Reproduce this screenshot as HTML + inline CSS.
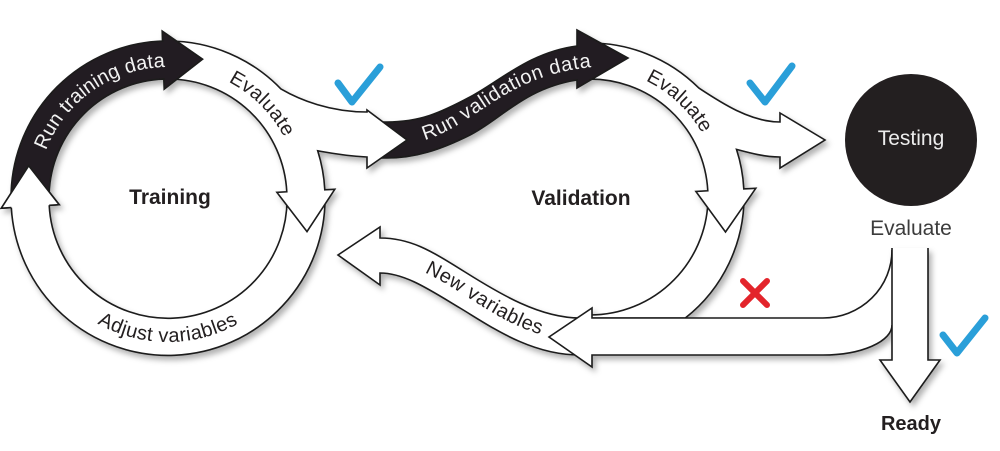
<!DOCTYPE html>
<html>
<head>
<meta charset="utf-8">
<style>
  html,body{margin:0;padding:0;background:#fff;}
  svg{display:block;}
  text{font-family:"Liberation Sans", sans-serif;}
</style>
</head>
<body>
<svg width="1000" height="451" viewBox="0 0 1000 451" xmlns="http://www.w3.org/2000/svg">
  <defs>
    <filter id="ds" x="-5%" y="-5%" width="115%" height="120%">
      <feDropShadow dx="3" dy="4" stdDeviation="3" flood-color="#000" flood-opacity="0.3"/>
    </filter>
    <path id="tpRunTrain" d="M37,198 A131,131 0 0 1 212.8,74.9"/>
    <path id="tpEvalTrain" d="M168,67 A131,131 0 0 1 299,198"/>
    <path id="tpAdjust" d="M43.3,270 A144,144 0 0 0 292.7,270"/>
    <path id="tpEvalVal" d="M585.5,68.1 A129,129 0 0 1 718.9,192.5"/>
    <path id="tpRunVal" d="M385,145 C430,145 450,130 478,112 S540,68 610,66"/>
    <path id="tpNewVar" d="M380,262 C415,262 440,280 480,305 S545,340 590,341"/>
  </defs>

  <rect width="1000" height="451" fill="#fff"/>

  <g filter="url(#ds)" stroke="#1a1a1a" stroke-width="1.6" stroke-linejoin="miter">
    <!-- validation lower arc -->
    <path fill="#fff" d="M744,194.3 A154,154 0 0 1 685.3,318 L590,318 L590,315 A118,118 0 0 0 708,194.9 Z"/>
    <!-- validation evaluate + branch to testing -->
    <path fill="#fff" d="M584.6,43.1 A154,154 0 0 1 698.9,88.1 C720,102 750,122 780,122 L780,113 L825,140 L780,168 L780,157 C765,157 750,153 736.5,149.4 A154,154 0 0 1 743.8,188.9 L755.8,188.3 L725.5,232 L695.9,191.5 L707.8,190.8 A118,118 0 0 0 585.9,79.1 Z"/>
    <!-- run validation data (black) -->
    <path fill="#231f20" d="M372,122 L387,122 C420,122 440,113 470,97 S530,52 577,46 L577,30 L628,58 L577,88 L577,80 C525,88 500,120 470,135 C440,150 415,158 387,158 L372,158 Z"/>
    <!-- new variables -->
    <path fill="#fff" d="M380,238 C410,238 430,250 465,272 S540,318 580,318 L580,355 C530,355 490,326 460,308 C430,290 405,273 380,273 L380,285 L338,255 L380,227 Z"/>
    <!-- long horizontal arrow from testing -->
    <path fill="#fff" d="M892,250 A69,68 0 0 1 823,318 L592,318 L592,308 L549,337 L592,367 L592,355 L823,355 A69,30 0 0 0 892,325"/>
    <!-- ready arrow -->
    <path fill="#fff" d="M892,248 L892,360 L880,360 L910,402 L940,360 L928,360 L928,248"/>
    <!-- training adjust variables -->
    <path fill="#fff" d="M325,195.3 A157,157 0 0 1 11.3,207.6 L1.3,208.2 L28.7,165.8 L59.2,204.7 L49.2,205.3 A119,119 0 0 0 287,195.9 Z"/>
    <!-- training evaluate + branch to validation -->
    <path fill="#fff" d="M168,41 A157,157 0 0 1 280.9,88.9 C300,100 330,112 367,112 L367,110 L407,140 L367,168 L367,157 C345,156 330,153 317.7,150.8 A157,157 0 0 1 324.8,189.8 L334.8,189.3 L307,231.6 L276.9,192.3 L286.8,191.8 A119,119 0 0 0 168,79 Z"/>
    <!-- run training data (black) -->
    <path fill="#231f20" d="M11.1,192.5 A157,157 0 0 1 162.5,41.1 L162.2,31.1 L202.6,59.2 L164.2,89.1 L163.8,79.1 A119,119 0 0 0 49.1,193.8 Z"/>
    <!-- adjust head overlay (on top of black band start) -->
    <path fill="#fff" d="M49.2,205.3 L59.2,204.7 L28.7,165.8 L1.3,208.2 L11.3,207.6"/>
  </g>

  <!-- Testing circle -->
  <circle cx="911" cy="140" r="66" fill="#231f20"/>

  <!-- arc labels -->
  <text font-size="20" fill="#f2f2f2" letter-spacing="0.1"><textPath href="#tpRunTrain" startOffset="50%" text-anchor="middle">Run training data</textPath></text>
  <text font-size="20" fill="#231f20" letter-spacing="0.3"><textPath href="#tpEvalTrain" startOffset="50%" text-anchor="middle">Evaluate</textPath></text>
  <text font-size="20" fill="#231f20" letter-spacing="0.4"><textPath href="#tpAdjust" startOffset="50%" text-anchor="middle">Adjust variables</textPath></text>
  <text font-size="20" fill="#231f20" letter-spacing="0.1"><textPath href="#tpEvalVal" startOffset="50%" text-anchor="middle">Evaluate</textPath></text>
  <text font-size="20" fill="#f2f2f2" letter-spacing="0.7"><textPath href="#tpRunVal" startOffset="40">Run validation data</textPath></text>
  <text font-size="20" fill="#231f20" letter-spacing="0.5"><textPath href="#tpNewVar" startOffset="46">New variables</textPath></text>

  <!-- plain labels -->
  <text x="170" y="204" text-anchor="middle" font-size="21" font-weight="bold" fill="#231f20">Training</text>
  <text x="581" y="205" text-anchor="middle" font-size="21" font-weight="bold" fill="#231f20">Validation</text>
  <text x="911" y="145" text-anchor="middle" font-size="21" fill="#ececec">Testing</text>
  <text x="911" y="235" text-anchor="middle" font-size="21" fill="#3c3c3c">Evaluate</text>
  <text x="911" y="430" text-anchor="middle" font-size="20" font-weight="bold" fill="#231f20">Ready</text>

  <!-- check marks -->
  <g fill="none" stroke="#2a9fd9" stroke-width="7" stroke-linecap="round" stroke-linejoin="round">
    <polyline points="338,83 352,102 380,67"/>
    <polyline points="750,83 765,102 792,66"/>
    <polyline points="943,335 957,353 985,318"/>
  </g>

  <!-- red X -->
  <g stroke="#e3242b" stroke-width="6" stroke-linecap="round">
    <line x1="743" y1="281" x2="767" y2="305"/>
    <line x1="767" y1="281" x2="743" y2="305"/>
  </g>
</svg>
</body>
</html>
